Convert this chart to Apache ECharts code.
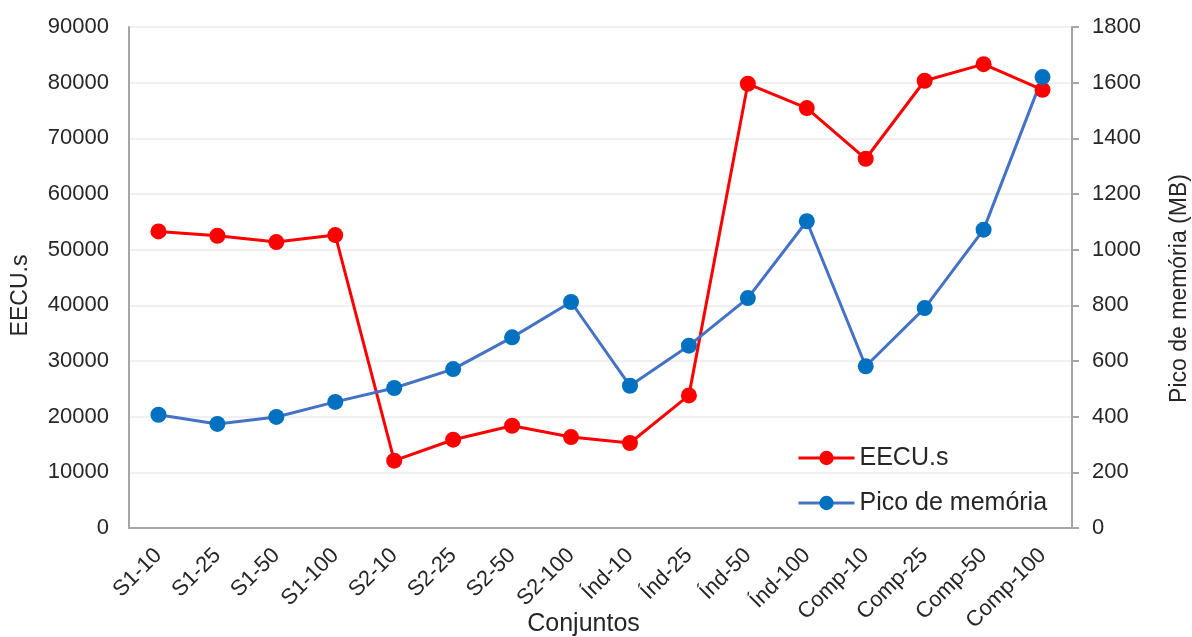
<!DOCTYPE html>
<html>
<head>
<meta charset="utf-8">
<script src="https://cdn.jsdelivr.net/npm/echarts@6/dist/echarts.min.js"></script>
<style>html,body{margin:0;padding:0;background:#fff;}#chart{width:1192px;height:637px;}</style>
</head>
<body>
<div id="chart"></div>
<script>
const categories = ['S1-10','S1-25','S1-50','S1-100','S2-10','S2-25','S2-50','S2-100','Índ-10','Índ-25','Índ-50','Índ-100','Comp-10','Comp-25','Comp-50','Comp-100'];
const eecu = [53270, 52500, 51370, 52620, 12090, 15860, 18370, 16340, 15270, 23820, 79800, 75430, 66330, 80340, 83330, 78720];
const memoria = [407, 374, 399, 453, 503, 571, 685, 812, 511, 655, 826, 1102, 581, 790, 1072, 1620];
const leftTicks = {min: 0, max: 90000, interval: 10000};
const rightTicks = {min: 0, max: 1800, interval: 200};

const font = 'Liberation Sans, Arial, sans-serif';
const txt = '#262626';
const plain = v => String(v);
const chart = echarts.init(document.getElementById('chart'));
chart.setOption({
  animation: false,
  backgroundColor: '#ffffff',
  grid: {left: 129, right: 120, top: 27, bottom: 109, containLabel: false, outerBoundsMode: 'none'},
  legend: {
    orient: 'vertical', left: 792, top: 439,
    itemWidth: 56, itemHeight: 18, itemGap: 17,
    lineStyle: {width: 3},
    textStyle: {fontFamily: font, fontSize: 25, color: txt, lineHeight: 28},
    data: ['EECU.s', 'Pico de memória']
  },
  xAxis: {
    type: 'category', data: categories, boundaryGap: true,
    name: 'Conjuntos', nameLocation: 'middle', nameGap: 84, nameMoveOverlap: false,
    nameTextStyle: {fontFamily: font, fontSize: 25, color: txt, padding: [0, 34, 0, 0]},
    axisLine: {lineStyle: {color: '#A6A6A6', width: 2}},
    axisTick: {show: false},
    axisLabel: {rotate: 45, margin: 24, fontFamily: font, fontSize: 22, color: txt, interval: 0},
    splitLine: {show: false}
  },
  yAxis: [
    {
      type: 'value', min: leftTicks.min, max: leftTicks.max, interval: leftTicks.interval,
      name: 'EECU.s', nameLocation: 'middle', nameGap: 97, nameMoveOverlap: false,
      nameTextStyle: {fontFamily: font, fontSize: 23, color: txt, padding: [0, 36, 0, 0]},
      axisLine: {show: true, lineStyle: {color: '#A6A6A6', width: 2}},
      axisTick: {show: false},
      axisLabel: {margin: 20, fontFamily: font, fontSize: 22, color: txt, formatter: plain},
      splitLine: {lineStyle: {color: '#F0F0F0', width: 2}}
    },
    {
      type: 'value', min: rightTicks.min, max: rightTicks.max, interval: rightTicks.interval,
      name: 'Pico de memória (MB)', nameLocation: 'middle', nameGap: 96, nameMoveOverlap: false,
      nameTextStyle: {fontFamily: font, fontSize: 23, color: txt, padding: [0, 22, 0, 0]},
      axisLine: {show: true, lineStyle: {color: '#A6A6A6', width: 2}},
      axisTick: {show: true, length: 7, lineStyle: {color: '#A6A6A6', width: 2}},
      axisLabel: {margin: 20, fontFamily: font, fontSize: 22, color: txt, formatter: plain},
      splitLine: {show: false}
    }
  ],
  series: [
    {
      name: 'EECU.s', type: 'line', yAxisIndex: 0, data: eecu,
      symbol: 'circle', symbolSize: 16,
      lineStyle: {color: '#FF0000', width: 3},
      itemStyle: {color: '#FF0000'}
    },
    {
      name: 'Pico de memória', type: 'line', yAxisIndex: 1, data: memoria,
      symbol: 'circle', symbolSize: 16,
      lineStyle: {color: '#4472C4', width: 3},
      itemStyle: {color: '#0070C0'}
    }
  ]
});
</script>
</body>
</html>
